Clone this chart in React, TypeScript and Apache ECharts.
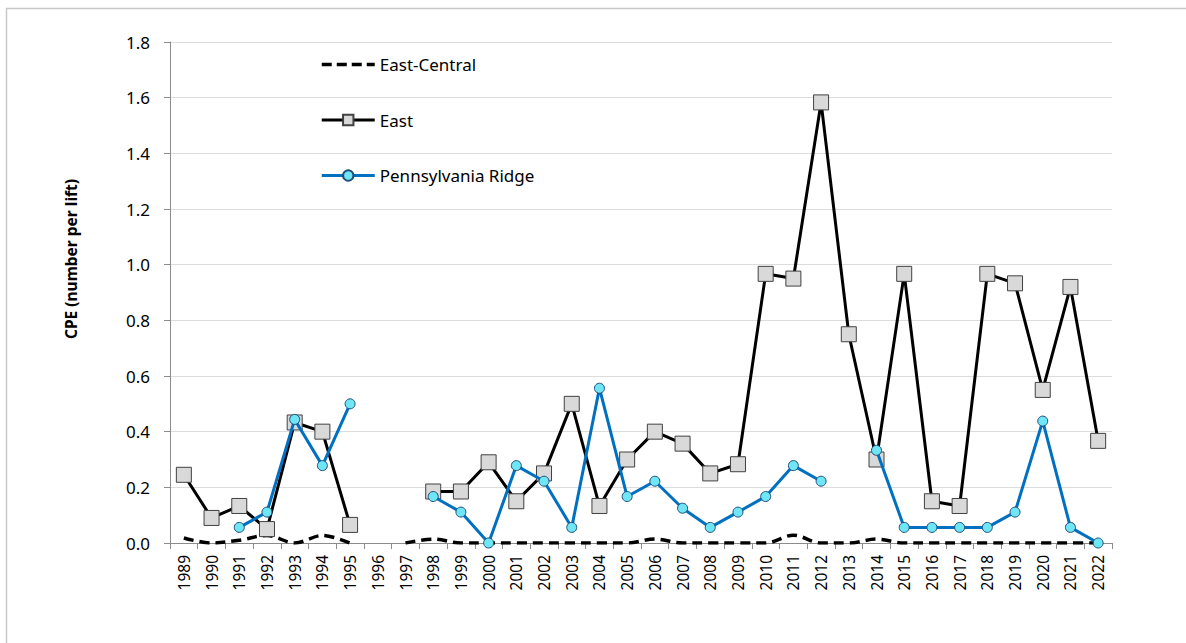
import React, { useEffect, useRef } from "react";
import * as echarts from "echarts";

const years = [
  "1989", "1990", "1991", "1992", "1993", "1994", "1995", "1996", "1997", "1998",
  "1999", "2000", "2001", "2002", "2003", "2004", "2005", "2006", "2007", "2008",
  "2009", "2010", "2011", "2012", "2013", "2014", "2015", "2016", "2017", "2018",
  "2019", "2020", "2021", "2022",
];

const eastCentral = [
  0.018, 0.0, 0.01, 0.027, 0.0, 0.027, 0.0, null, 0.0, 0.014,
  0.0, 0.0, 0.0, 0.0, 0.0, 0.0, 0.0, 0.014, 0.0, 0.0,
  0.0, 0.0, 0.028, 0.0, 0.0, 0.014, 0.0, 0.0, 0.0, 0.0,
  0.0, 0.0, 0.0, 0.0,
];

const east = [
  0.245, 0.09, 0.133, 0.05, 0.433, 0.4, 0.065, null, null, 0.185,
  0.185, 0.29, 0.15, 0.25, 0.5, 0.133, 0.3, 0.4, 0.357, 0.25,
  0.283, 0.967, 0.95, 1.583, 0.75, 0.3, 0.967, 0.15, 0.133, 0.967,
  0.933, 0.55, 0.92, 0.367,
];

const pennRidge = [
  null, null, 0.056, 0.111, 0.444, 0.278, 0.5, null, null, 0.167,
  0.111, 0.0, 0.278, 0.222, 0.056, 0.556, 0.167, 0.222, 0.125, 0.056,
  0.111, 0.167, 0.278, 0.222, null, 0.333, 0.056, 0.056, 0.056, 0.056,
  0.111, 0.438, 0.056, 0.0,
];

const yTitle = "CPE (number per lift)";

const FONT = "'Noto Sans', 'Open Sans', sans-serif";

export default function App() {
  const ref = useRef<HTMLDivElement>(null);
  useEffect(() => {
    if (!ref.current) return;
    const chart = echarts.init(ref.current, null, { renderer: "svg" });
    chart.setOption({
      animation: false,
      backgroundColor: "#ffffff",
      textStyle: { fontFamily: FONT },
      graphic: [
        {
          type: "rect",
          shape: { x: 6.5, y: 8.5, width: 1200, height: 700 },
          style: { fill: "none", stroke: "#c8c8c8", lineWidth: 1.5 },
          silent: true,
          z: -10,
        },
        {
          type: "text",
          x: 71,
          y: 259,
          rotation: Math.PI / 2,
          style: {
            text: yTitle,
            font: "bold 15.5px 'Noto Sans', sans-serif",
            fill: "#000",
            align: "center",
            verticalAlign: "middle",
          },
          silent: true,
        },
      ],
      grid: { left: 170, right: 74, top: 42, bottom: 100, containLabel: false },
      legend: {
        orient: "vertical",
        left: 320,
        top: 56,
        padding: 0,
        itemWidth: 53,
        itemHeight: 13,
        itemGap: 38.5,
        textStyle: { fontFamily: FONT, fontSize: 17, lineHeight: 13, color: "#000" },
        data: [
          {
            name: "East-Central",
            itemStyle: { color: "rgba(0,0,0,0)", borderWidth: 0, opacity: 0 },
            lineStyle: { width: 3.5, color: "#000", type: [10, 5] },
          },
          { name: "East", lineStyle: { width: 3, color: "#000" } },
          { name: "Pennsylvania Ridge", lineStyle: { width: 3, color: "#0070c0" } },
        ],
      },
      xAxis: {
        type: "category",
        data: years,
        boundaryGap: true,
        axisLine: { show: true, lineStyle: { color: "#8c8c8c", width: 1 } },
        axisTick: { show: true, length: 6, interval: 0, lineStyle: { color: "#8c8c8c" } },
        axisLabel: {
          interval: 0,
          rotate: 90,
          fontFamily: FONT,
          fontSize: 15.5,
          color: "#000",
          margin: 12,
        },
        splitLine: { show: false },
      },
      yAxis: {
        type: "value",
        min: 0,
        max: 1.8,
        interval: 0.2,
        axisLine: { show: true, lineStyle: { color: "#8c8c8c", width: 1 } },
        axisTick: { show: true, length: 6, lineStyle: { color: "#8c8c8c" } },
        axisLabel: {
          fontFamily: FONT,
          fontSize: 17,
          color: "#000",
          margin: 20,
          formatter: (v: number) => v.toFixed(1),
        },
        splitLine: { show: true, lineStyle: { color: "#dcdcdc", width: 1 } },
      },
      series: [
        {
          name: "East-Central",
          type: "line",
          data: eastCentral,
          smooth: 0.35,
          symbol: "none",
          connectNulls: false,
          lineStyle: { color: "#000", width: 3.5, type: [10, 6] },
          itemStyle: { color: "#000" },
          z: 2,
        },
        {
          name: "East",
          type: "line",
          data: east,
          symbol: "rect",
          symbolSize: 15,
          connectNulls: false,
          lineStyle: { color: "#000", width: 3 },
          itemStyle: { color: "#d9d9d9", borderColor: "#404040", borderWidth: 1 },
          z: 3,
        },
        {
          name: "Pennsylvania Ridge",
          type: "line",
          data: pennRidge,
          symbol: "circle",
          symbolSize: 10,
          connectNulls: false,
          lineStyle: { color: "#0070c0", width: 3 },
          itemStyle: { color: "#6fe6f5", borderColor: "#1f4e79", borderWidth: 1 },
          z: 4,
        },
      ],
    });
    return () => chart.dispose();
  }, []);
  return (
    <div
      ref={ref}
      style={{ position: "fixed", left: 0, top: 0, width: 1186, height: 643 }}
    />
  );
}
